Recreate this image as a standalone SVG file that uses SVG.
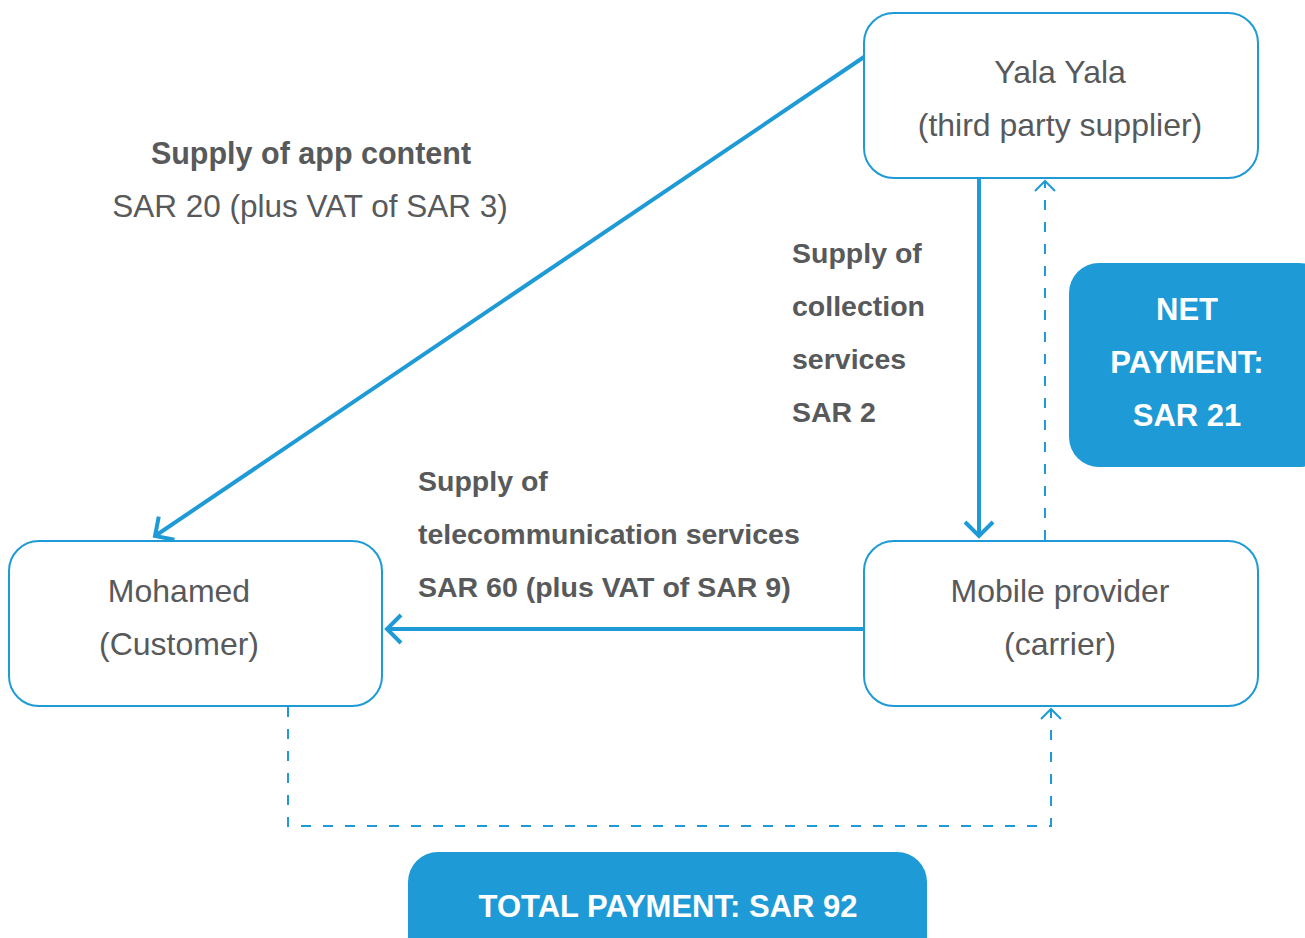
<svg xmlns="http://www.w3.org/2000/svg" width="1305" height="938" viewBox="0 0 1305 938">
<style>
.node{fill:#fff;stroke:#1E9AD6;stroke-width:2}
.pay{fill:#1E9AD6}
.nt{font-family:"Liberation Sans",Arial,sans-serif;font-size:32px;fill:#58595B;text-anchor:middle}
.lb{font-family:"Liberation Sans",Arial,sans-serif;font-size:28.5px;font-weight:bold;fill:#58595B}
.lr{font-family:"Liberation Sans",Arial,sans-serif;font-size:31.5px;fill:#58595B}
.pt{font-family:"Liberation Sans",Arial,sans-serif;font-size:31px;font-weight:bold;fill:#fff;text-anchor:middle}
.solid{fill:none;stroke:#1E9AD6;stroke-width:4}
.dash{fill:none;stroke:#1E9AD6;stroke-width:2;stroke-dasharray:10 12}
</style>
<defs>
<marker id="ah" markerUnits="userSpaceOnUse" markerWidth="40" markerHeight="40" refX="0" refY="0" viewBox="-20 -20 40 40" orient="auto" overflow="visible">
<path d="M -14 -14 L 0 0 L -14 14" fill="none" stroke="#1E9AD6" stroke-width="4"/>
</marker>
<marker id="ahd" markerUnits="userSpaceOnUse" markerWidth="30" markerHeight="30" refX="0" refY="0" viewBox="-15 -15 30 30" orient="auto" overflow="visible">
<path d="M -10 -10 L 0 0 L -10 10" fill="none" stroke="#1E9AD6" stroke-width="2"/>
</marker>
</defs>
<g id="connectors">
<line class="solid" x1="864" y1="57" x2="155" y2="536" marker-end="url(#ah)"/>
<line class="solid" x1="864" y1="629" x2="387" y2="629" marker-end="url(#ah)"/>
<line class="solid" x1="979" y1="179" x2="979" y2="536" marker-end="url(#ah)"/>
<line class="dash" x1="1045" y1="540" x2="1045" y2="181" marker-end="url(#ahd)"/>
<polyline class="dash" points="288,707 288,826 1051,826 1051,709" marker-end="url(#ahd)"/>
</g>
<g id="yala">
<rect class="node" x="864" y="13" width="394" height="165" rx="30"/>
<text class="nt" x="1060" y="83">Yala Yala</text>
<text class="nt" x="1060" y="136">(third party supplier)</text>
</g>
<g id="mohamed">
<rect class="node" x="9" y="541" width="373" height="165" rx="30"/>
<text class="nt" x="179" y="602">Mohamed</text>
<text class="nt" x="179" y="655">(Customer)</text>
</g>
<g id="mobile">
<rect class="node" x="864" y="541" width="394" height="165" rx="30"/>
<text class="nt" x="1060" y="602">Mobile provider</text>
<text class="nt" x="1060" y="655">(carrier)</text>
</g>
<g id="net">
<rect class="pay" x="1069" y="263" width="260" height="204" rx="30"/>
<text class="pt" x="1187" y="320">NET</text>
<text class="pt" x="1187" y="373">PAYMENT:</text>
<text class="pt" x="1187" y="426">SAR 21</text>
</g>
<g id="total">
<rect class="pay" x="408" y="852" width="519" height="120" rx="30"/>
<text class="pt" x="668" y="917">TOTAL PAYMENT: SAR 92</text>
</g>
<g id="labels">
<text class="lb" x="311" y="164" text-anchor="middle" style="font-size:30.5px">Supply of app content</text>
<text class="lr" x="310" y="217" text-anchor="middle">SAR 20 (plus VAT of SAR 3)</text>
<text class="lb" x="792" y="263">Supply of</text>
<text class="lb" x="792" y="316">collection</text>
<text class="lb" x="792" y="369">services</text>
<text class="lb" x="792" y="422">SAR 2</text>
<text class="lb" x="418" y="491">Supply of</text>
<text class="lb" x="418" y="544">telecommunication services</text>
<text class="lb" x="418" y="597">SAR 60 (plus VAT of SAR 9)</text>
</g>
</svg>
